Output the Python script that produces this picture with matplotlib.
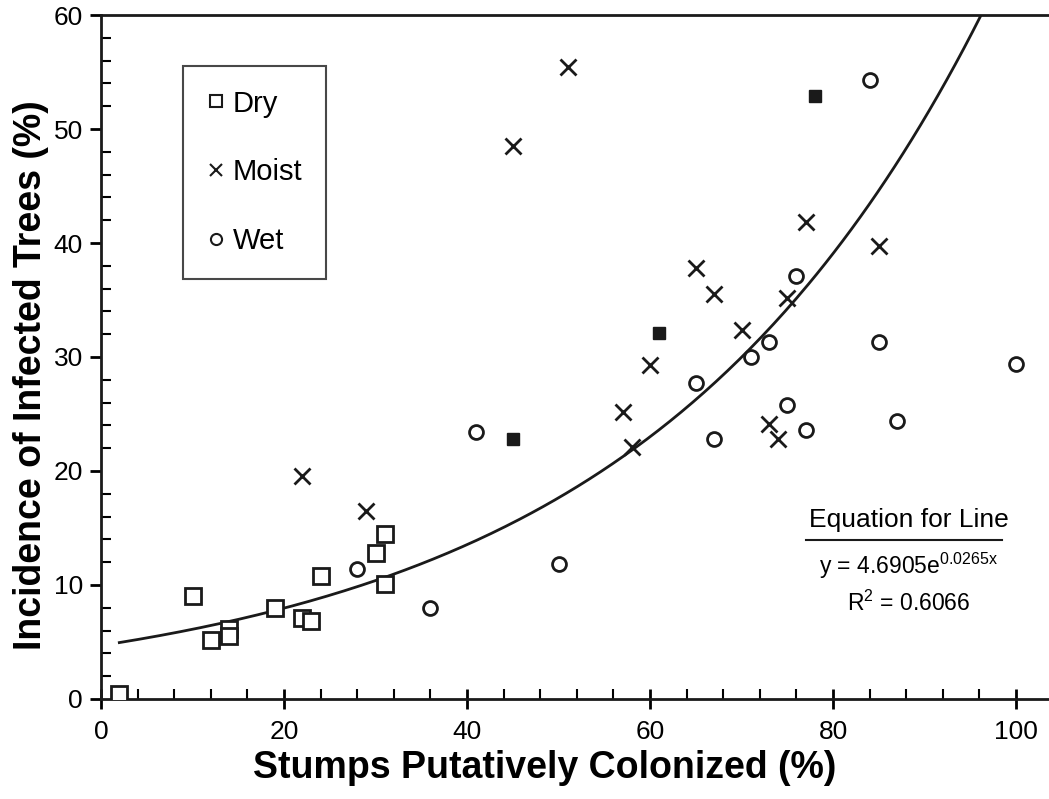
import numpy as np
import matplotlib
matplotlib.use("Agg")
import matplotlib.pyplot as plt
from matplotlib.ticker import MultipleLocator
from matplotlib.lines import Line2D

plt.rcParams['font.family'] = ['Liberation Sans', 'DejaVu Sans']
plt.rcParams['mathtext.fontset'] = 'custom'
plt.rcParams['mathtext.rm'] = 'Liberation Sans'
plt.rcParams['mathtext.it'] = 'Liberation Sans'

# Dry sites
dry_x = [2, 10, 12, 14, 14, 19, 22, 23, 24, 30, 31, 31]
dry_y = [0.4, 9.0, 5.2, 6.1, 5.5, 8.0, 7.1, 6.8, 10.8, 12.8, 10.1, 14.5]

# Moist sites
moist_x = [22, 29, 45, 51, 57, 58, 60, 65, 67, 70, 73, 74, 75, 77, 85]
moist_y = [19.6, 16.5, 48.5, 55.4, 25.2, 22.1, 29.3, 37.8, 35.5, 32.4, 24.1,
           22.8, 35.2, 41.8, 39.7]

# Wet sites
wet_x = [28, 36, 41, 50, 65, 67, 71, 73, 75, 76, 77, 84, 85, 87, 100]
wet_y = [11.4, 8.0, 23.4, 11.8, 27.7, 22.8, 30.0, 31.3, 25.8, 37.1, 23.6,
         54.3, 31.3, 24.4, 29.4]

# overlapping points drawn as solid squares
solid_x = [45, 61, 78]
solid_y = [22.8, 32.1, 52.9]

# exponential fit y = a * exp(b x)
fit_a = 4.6905
fit_b = 0.0265
fit_x_start = 2

fig = plt.figure(figsize=(10.49, 7.99), dpi=100)
ax = fig.add_axes([0.0963, 0.1252, 0.9037, 0.856])

x_end = np.log(60 / fit_a) / fit_b
xs = np.linspace(fit_x_start, x_end, 300)
ax.plot(xs, fit_a * np.exp(fit_b * xs), color='#1a1a1a', lw=2.0, zorder=2)

ax.plot(dry_x, dry_y, 's', ms=11, mfc='white', mec='#1a1a1a', mew=2.0, zorder=3)
ax.plot(moist_x, moist_y, 'x', ms=11, mec='#1a1a1a', mew=2.0, zorder=3)
ax.plot(wet_x, wet_y, 'o', ms=10, mfc='white', mec='#1a1a1a', mew=2.0, zorder=3)
ax.plot(solid_x, solid_y, 's', ms=8, mfc='#1a1a1a', mec='#1a1a1a', zorder=4)

ax.set_xlim(0, 103.6)
ax.set_ylim(0, 60)
ax.xaxis.set_major_locator(MultipleLocator(20))
ax.xaxis.set_minor_locator(MultipleLocator(4))
ax.yaxis.set_major_locator(MultipleLocator(10))
ax.yaxis.set_minor_locator(MultipleLocator(2))

ax.spines['right'].set_visible(False)
for s in ['left', 'bottom', 'top']:
    ax.spines[s].set_linewidth(2.0)
    ax.spines[s].set_color('#1a1a1a')

ax.tick_params(axis='x', which='major', direction='inout', length=14, width=2,
               labelsize=19, pad=8)
ax.tick_params(axis='x', which='minor', direction='in', length=7, width=1.5)
ax.tick_params(axis='y', which='major', direction='out', length=8, width=2,
               labelsize=19, pad=5)
ax.tick_params(axis='y', which='minor', direction='in', length=7, width=1.5)

ax.set_xlabel('Stumps Putatively Colonized (%)', fontsize=27, fontweight='bold')
ax.set_ylabel('Incidence of Infected Trees (%)', fontsize=27, fontweight='bold')
ax.xaxis.set_label_coords(0.468, -0.074)
ax.yaxis.set_label_coords(-0.055, 0.474)

handles = [
    Line2D([], [], ls='', marker='s', ms=8, mfc='white', mec='#1a1a1a', mew=1.5),
    Line2D([], [], ls='', marker='x', ms=8, mec='#1a1a1a', mew=1.5),
    Line2D([], [], ls='', marker='o', ms=8, mfc='white', mec='#1a1a1a', mew=1.5),
]
leg = ax.legend(handles, ['Dry', 'Moist', 'Wet'], loc='upper left',
                bbox_to_anchor=(0.087, 0.925), fontsize=21, frameon=True,
                fancybox=False, handlelength=0.6, handletextpad=0.3,
                labelspacing=1.4, borderpad=0.8, borderaxespad=0)
leg.get_frame().set_edgecolor('#1a1a1a')
leg.get_frame().set_linewidth(1.5)

ax.text(0.852, 0.262, 'Equation for Line', transform=ax.transAxes,
        fontsize=19, ha='center', va='center')
ax.plot([0.744, 0.95], [0.232, 0.232], transform=ax.transAxes,
        color='#1a1a1a', lw=1.5, clip_on=False)
ax.text(0.852, 0.195, r'y = 4.6905e$^{\mathregular{0.0265x}}$',
        transform=ax.transAxes, fontsize=16.5, ha='center', va='center')
ax.text(0.852, 0.14, r'R$^{\mathregular{2}}$ = 0.6066',
        transform=ax.transAxes, fontsize=16.5, ha='center', va='center')

fig.savefig('out.png', dpi=100)
